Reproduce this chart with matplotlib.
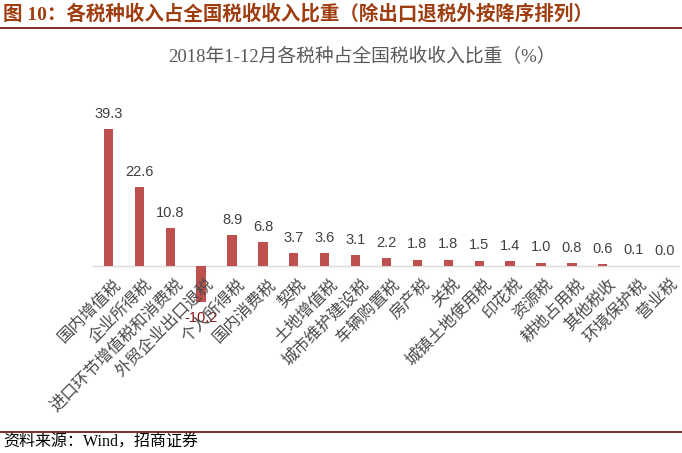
import matplotlib
matplotlib.use("Agg")
import matplotlib.pyplot as plt
from matplotlib.lines import Line2D

plt.rcParams['font.family'] = ['Liberation Sans', 'Noto Sans CJK SC', 'DejaVu Sans']

categories = ["国内增值税", "企业所得税", "进口环节增值税和消费税", "外贸企业出口退税",
              "个人所得税", "国内消费税", "契税", "土地增值税", "城市维护建设税",
              "车辆购置税", "房产税", "关税", "城镇土地使用税", "印花税", "资源税",
              "耕地占用税", "其他税收", "环境保护税", "营业税"]
values = [39.3, 22.6, 10.8, -10.2, 8.9, 6.8, 3.7, 3.6, 3.1, 2.2, 1.8, 1.8,
          1.5, 1.4, 1.0, 0.8, 0.6, 0.1, 0.0]

header = "图 10：各税种收入占全国税收收入比重（除出口退税外按降序排列）"
chart_title = "2018年1-12月各税种占全国税收收入比重（%）"
source = "资料来源：Wind，招商证券"

W, H = 682, 453
fig = plt.figure(figsize=(W / 100, H / 100), dpi=100)

# axes geometry in pixels
ymin, ymax = -15, 45
ppu = 3.49
zero_y = 266
top_px = zero_y - ymax * ppu
bot_px = zero_y - ymin * ppu
left_px, right_px = 93, 680
ax = fig.add_axes([left_px / W, (H - bot_px) / H, (right_px - left_px) / W, (bot_px - top_px) / H])
n = len(categories)
ax.set_xlim(-0.5, n - 0.5)
ax.set_ylim(ymin, ymax)
ax.axis('off')
ax.axhline(0, color='#D9D9D9', lw=1.0, zorder=1)

x = list(range(n))
bars = ax.bar(x, values, width=0.3, color='#C0504D', zorder=2)

serif_cjk = ['Liberation Serif', 'Noto Sans CJK SC']
for i, (b, v) in enumerate(zip(bars, values)):
    if v >= 0:
        ax.annotate(f"{v:.1f}", (i, v), xytext=(0, 6), textcoords='offset points',
                    ha='center', va='bottom', fontsize=10.5, color='#404040')
    else:
        ax.annotate(f"{v:.1f}", (i, v), xytext=(0, -7), textcoords='offset points',
                    ha='center', va='top', fontsize=10.5, color='#8B1A1A')
    ax.annotate(categories[i], (i, 0), xytext=(3, -7), textcoords='offset points',
                ha='right', va='top', rotation=45, rotation_mode='anchor',
                fontsize=11.8, color='#4A4A4A', fontweight='light',
                family=['Noto Sans CJK SC', 'DejaVu Sans'])

# header and decorations
fig.text(3 / W, 1 - 14 / H, header, fontsize=14, fontweight='bold', color='#9E3D10',
         ha='left', va='center', family=serif_cjk)
fig.add_artist(Line2D([0, 1], [1 - 28 / H, 1 - 28 / H], color='#7B1C1C', lw=1.3,
                      transform=fig.transFigure))
fig.text(362 / W, 1 - 57 / H, chart_title, fontsize=13.5, color='#595959',
         ha='center', va='center', family=serif_cjk)
fig.add_artist(Line2D([0, 1], [1 - 432 / H, 1 - 432 / H], color='#7B1C1C', lw=1.3,
                      transform=fig.transFigure))
fig.text(3 / W, 1 - 443 / H, source, fontsize=11.5, color='#000000',
         ha='left', va='center', family=serif_cjk)

fig.savefig("out.png", dpi=100)
